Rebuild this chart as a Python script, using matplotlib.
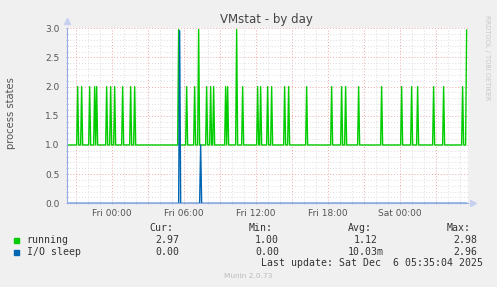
import numpy as np
import matplotlib.pyplot as plt
from matplotlib.patches import Rectangle
from matplotlib.ticker import MultipleLocator

# hours relative to Fri 00:00, one sample every 5 minutes
t_start, t_end, step = -3.67, 29.55, 5 / 60

# running: baseline 1.0, short spikes (hour, peak value)
run_spike_h = [-2.87, -2.53, -1.81, -1.45, -1.23, -0.45, -0.06, 0.22, 0.92, 1.61, 1.92,
               5.55, 6.25, 6.88, 7.22, 7.88, 8.28, 8.47, 9.50, 9.69, 10.38, 10.94,
               12.19, 12.44, 13.03, 13.30, 14.38, 14.72, 16.23, 18.30, 19.13, 19.48,
               20.55, 22.53, 24.13, 25.00, 25.47, 26.83, 27.67, 29.25, 29.55]
run_spike_v = [2.0] * 11 + [2.98, 2.0, 2.0, 2.98, 2.0, 2.0, 2.0, 2.0, 2.0, 2.98, 2.0] + \
              [2.0] * 18 + [2.97]
run_base = 1.0

# I/O sleep: baseline 0, two spikes
io_spike_h = [5.67, 7.38]
io_spike_v = [2.96, 1.0]
io_base = 0.0

xtick_h = [0, 6, 12, 18, 24]
xtick_labels = ["Fri 00:00", "Fri 06:00", "Fri 12:00", "Fri 18:00", "Sat 00:00"]

legend_names = ["running", "I/O sleep"]
legend_colors = ["#00CC00", "#0066B3"]
cur_vals = ["2.97", "0.00"]
min_vals = ["1.00", "0.00"]
avg_vals = ["1.12", "10.03m"]
max_vals = ["2.98", "2.96"]


def build(base, hours, vals):
    t = np.arange(t_start, t_end + step / 2, step)
    y = np.full(len(t), base)
    for h, v in zip(hours, vals):
        y[int(round((h - t_start) / step))] = v
    return t, y


t_run, y_run = build(run_base, run_spike_h, run_spike_v)
t_io, y_io = build(io_base, io_spike_h, io_spike_v)

W, H = 497, 287
fig = plt.figure(figsize=(W / 100, H / 100), dpi=100, facecolor="#F0F0F0")
x0, x1, ytop, ybot = 66.7, 467.7, 28.3, 203.3
ax = fig.add_axes([x0 / W, 1 - ybot / H, (x1 - x0) / W, (ybot - ytop) / H])
ax.set_facecolor("white")

ax.plot(t_run, y_run, color="#00CC00", lw=1.0)
ax.plot(t_io, y_io, color="#0066B3", lw=1.0)

ax.set_xlim(-3.75, 29.67)
ax.set_ylim(0, 3.0)
ax.xaxis.set_minor_locator(MultipleLocator(1))
ax.yaxis.set_minor_locator(MultipleLocator(0.1))
ax.grid(which="minor", color="#DDDDDD", linestyle=(0, (1, 2)), lw=0.7)
ax.grid(which="major", color="#F0A8A8", linestyle=(0, (1, 2)), lw=0.7)
ax.set_axisbelow(True)

# red grid every 3 hours, labels every 6 hours
major_h = list(range(-3, 30, 3))
ax.set_xticks(major_h)
ax.set_xticklabels([xtick_labels[xtick_h.index(v)] if v in xtick_h else "" for v in major_h])
ax.set_yticks(np.arange(0, 3.01, 0.5))
ax.set_yticklabels(["%.1f" % v for v in np.arange(0, 3.01, 0.5)])
ax.tick_params(which="both", colors="#A0B0E8", labelcolor="#555555", labelsize=6.5,
               length=2, width=0.6, direction="inout")
ax.tick_params(axis="y", pad=4)
ax.tick_params(axis="x", pad=3)

for s in ["top", "right"]:
    ax.spines[s].set_visible(False)
for s in ["left", "bottom"]:
    ax.spines[s].set_color("#98A8E4")
    ax.spines[s].set_linewidth(0.8)
ax.plot([0], [1.04], marker="^", color="#C8D0F0", ms=5, transform=ax.transAxes, clip_on=False)
ax.plot([1.012], [0], marker=">", color="#C8D0F0", ms=5, transform=ax.transAxes, clip_on=False)

fig.text(266 / W, 1 - 19 / H, "VMstat - by day", ha="center", va="center",
         fontsize=8.5, color="#444444")
fig.text(11 / W, 1 - 113 / H, "process states", rotation=90, ha="center", va="center",
         fontsize=7.2, color="#555555")
fig.text(487 / W, 1 - 15 / H, "RRDTOOL / TOBI OETIKER", rotation=270, ha="center", va="top",
         fontsize=4.8, color="#C8C8C8")

mono = dict(family="DejaVu Sans Mono", fontsize=7.1, color="#333333", va="center")
fy = lambda y: 1 - y / H
fig.text(149 / W, fy(228), "Cur:", **mono)
fig.text(249 / W, fy(228), "Min:", **mono)
fig.text(348 / W, fy(228), "Avg:", **mono)
fig.text(447 / W, fy(228), "Max:", **mono)
rows_y = [240, 252]
for i, yy in enumerate(rows_y):
    fig.patches.append(Rectangle((14 / W, fy(yy + 2.5)), 5.3 / W, 5 / H,
                                 color=legend_colors[i], transform=fig.transFigure))
    fig.text(26.7 / W, fy(yy), legend_names[i], **mono)
    fig.text(179 / W, fy(yy), cur_vals[i], ha="right", **mono)
    fig.text(279 / W, fy(yy), min_vals[i], ha="right", **mono)
    fig.text(384 / W if avg_vals[i].endswith("m") else 378 / W, fy(yy), avg_vals[i], ha="right", **mono)
    fig.text(477 / W, fy(yy), max_vals[i], ha="right", **mono)
fig.text(482.7 / W, fy(263.5), "Last update: Sat Dec  6 05:35:04 2025", ha="right", **mono)
fig.text(248 / W, fy(276.5), "Munin 2.0.73", ha="center", va="center", fontsize=5.3, color="#BBBBBB")

fig.savefig("out.png", dpi=100, facecolor=fig.get_facecolor())
